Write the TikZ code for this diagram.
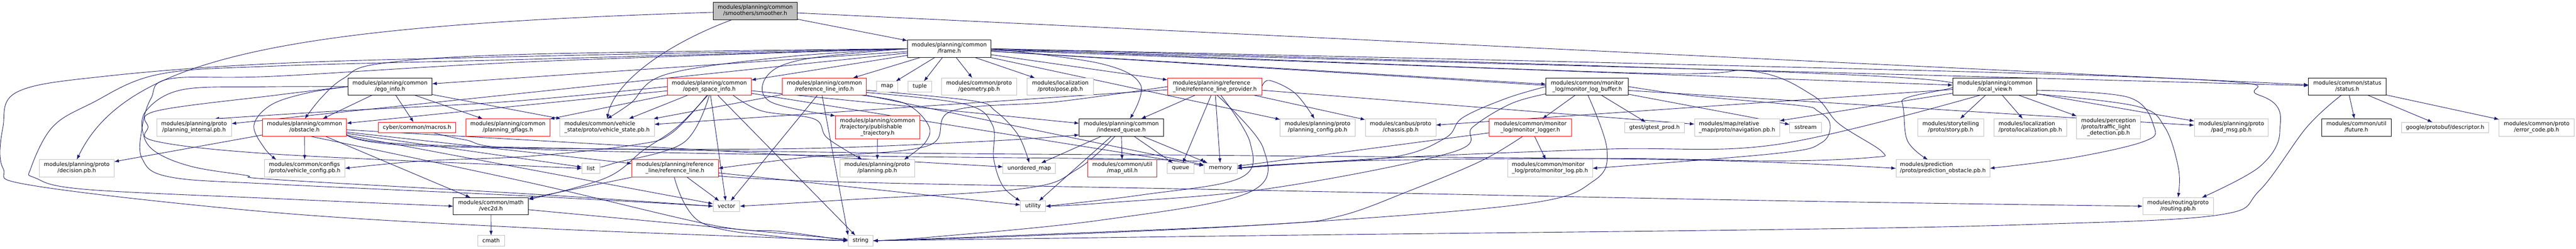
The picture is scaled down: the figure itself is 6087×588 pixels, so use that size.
\documentclass[tikz,border=0pt]{standalone}
\usepackage{fontspec}
\newfontfamily\dvs{DejaVu Sans}
\usetikzlibrary{arrows.meta,backgrounds}
\definecolor{edgec}{HTML}{191970}
\definecolor{lgray}{HTML}{BFBFBF}
\newcommand\nfnt{\dvs\fontsize{13}{14.5}\selectfont}
\newcommand\twol[2]{\begin{tabular}{@{}l@{}}#1\\\multicolumn{1}{@{}c@{}}{#2}\end{tabular}}
\newcommand\threel[3]{\begin{tabular}{@{}l@{}}#1\\#2\\\multicolumn{1}{@{}c@{}}{#3}\end{tabular}}
\newcommand\edg[2]{\draw[dep] (#1) -- (#2);}
\newcommand\edp[1]{\draw[dep] plot[smooth,tension=0.6] coordinates {#1};}
\tikzset{
  nd/.style={rectangle, inner sep=0pt, outer sep=0pt, fill=white, line width=1pt, font=\nfnt, minimum height=41pt},
  lf/.style={nd, draw=lgray},
  rd/.style={nd, draw=red},
  bk/.style={nd, draw=black, line width=1.2pt},
  rt/.style={nd, draw=black, line width=1.2pt, fill=lgray},
  hone/.style={minimum height=25pt},
  hthree/.style={minimum height=55pt},
  dep/.style={draw=edgec, line width=1.1pt, -{Latex[length=11pt,width=8pt]}},
}
\begin{document}
\begin{tikzpicture}[x=1pt,y=-1pt]
\useasboundingbox (0,0) rectangle (6087,588);
% row 0 / 1
\node[rt, minimum width=199pt] (smoother) at (1784.5,26) {\twol{modules/planning/common}{/smoothers/smoother.h}};
\node[bk, minimum width=198pt] (frame) at (2243,115) {\twol{modules/planning/common}{/frame.h}};
% row 2
\node[bk, minimum width=199pt] (ego) at (921.5,204.5) {\twol{modules/planning/common}{/ego\_info.h}};
\node[rd, minimum width=198pt] (osi) at (1676,204.5) {\twol{modules/planning/common}{/open\_space\_info.h}};
\node[rd, minimum width=198pt] (rli) at (1948,204.5) {\twol{modules/planning/common}{/reference\_line\_info.h}};
\node[lf, hone, minimum width=50pt] (map) at (2096,204.5) {map};
\node[lf, hone, minimum width=55pt] (tuple) at (2173.5,204.5) {tuple};
\node[lf, minimum width=177pt] (geom) at (2313.5,204.5) {\twol{modules/common/proto}{/geometry.pb.h}};
\node[lf, minimum width=157pt] (pose) at (2505.5,204.5) {\twol{modules/localization}{/proto/pose.pb.h}};
\node[rd, minimum width=223pt] (rlp) at (2870.5,204.5) {\twol{modules/planning/reference}{\_line/reference\_line\_provider.h}};
\node[bk, minimum width=195pt] (mlb) at (3750.5,204.5) {\twol{modules/common/monitor}{\_log/monitor\_log\_buffer.h}};
\node[bk, minimum width=199pt] (lv) at (4713.5,204.5) {\twol{modules/planning/common}{/local\_view.h}};
\node[bk, minimum width=183pt] (status) at (5546.5,204.5) {\twol{modules/common/status}{/status.h}};
% row 3
\node[lf, minimum width=177pt] (pint) at (458.5,301) {\twol{modules/planning/proto}{/planning\_internal.pb.h}};
\node[rd, minimum width=199pt] (obst) at (719.5,301) {\twol{modules/planning/common}{/obstacle.h}};
\node[rd, hone, minimum width=183pt] (macros) at (985.5,301) {cyber/common/macros.h};
\node[rd, minimum width=198pt] (gflags) at (1200,301) {\twol{modules/planning/common}{/planning\_gflags.h}};
\node[lf, minimum width=223pt] (vstate) at (1434.5,301) {\twol{modules/common/vehicle}{\_state/proto/vehicle\_state.pb.h}};
\node[rd, hthree, minimum width=199pt] (ptraj) at (2073.5,301) {\threel{modules/planning/common}{/trajectory/publishable}{\_trajectory.h}};
\node[bk, minimum width=199pt] (iq) at (2649.5,301) {\twol{modules/planning/common}{/indexed\_queue.h}};
\node[lf, minimum width=177pt] (pcfg) at (3113.5,301) {\twol{modules/planning/proto}{/planning\_config.pb.h}};
\node[lf, minimum width=167pt] (chassis) at (3309.5,301) {\twol{modules/canbus/proto}{/chassis.pb.h}};
\node[rd, minimum width=194pt] (mlogger) at (3616,301) {\twol{modules/common/monitor}{\_log/monitor\_logger.h}};
\node[lf, hone, minimum width=141pt] (gtest) at (3909.5,301) {gtest/gtest\_prod.h};
\node[lf, minimum width=201pt] (nav) at (4104.5,301) {\twol{modules/map/relative}{\_map/proto/navigation.pb.h}};
\node[lf, hone, minimum width=75pt] (sstream) at (4266.5,301) {sstream};
\node[lf, minimum width=157pt] (story) at (4609.5,301) {\twol{modules/storytelling}{/proto/story.pb.h}};
\node[lf, minimum width=171pt] (loc) at (4797.5,301) {\twol{modules/localization}{/proto/localization.pb.h}};
\node[lf, hthree, minimum width=151pt] (tld) at (4982.5,301) {\threel{modules/perception}{/proto/traffic\_light}{\_detection.pb.h}};
\node[lf, minimum width=175pt] (pad) at (5272.5,301) {\twol{modules/planning/proto}{/pad\_msg.pb.h}};
\node[bk, minimum width=164pt] (future) at (5568,301) {\twol{modules/common/util}{/future.h}};
\node[lf, hone, minimum width=205pt] (desc) at (5777.5,301) {google/protobuf/descriptor.h};
\node[lf, minimum width=178pt] (err) at (5994,301) {\twol{modules/common/proto}{/error\_code.pb.h}};
% row 4
\node[lf, minimum width=177pt] (dec) at (181.5,397.5) {\twol{modules/planning/proto}{/decision.pb.h}};
\node[lf, minimum width=190pt] (vcfg) at (720,397.5) {\twol{modules/common/configs}{/proto/vehicle\_config.pb.h}};
\node[lf, hone, minimum width=42pt] (list) at (1396,397.5) {list};
\node[rd, minimum width=204pt] (rl) at (1595,397.5) {\twol{modules/planning/reference}{\_line/reference\_line.h}};
\node[lf, minimum width=176pt] (ppb) at (2073,397.5) {\twol{modules/planning/proto}{/planning.pb.h}};
\node[lf, hone, minimum width=124pt] (umap) at (2432,397.5) {unordered\_map};
\node[rd, minimum width=164pt] (mutil) at (2652,397.5) {\twol{modules/common/util}{/map\_util.h}};
\node[lf, hone, minimum width=63pt] (queue) at (2789.5,397.5) {queue};
\node[lf, hone, minimum width=78pt] (memory) at (2884,397.5) {memory};
\node[lf, minimum width=201pt] (mlpb) at (3662.5,397.5) {\twol{modules/common/monitor}{\_log/proto/monitor\_log.pb.h}};
\node[lf, minimum width=222pt] (pobs) at (4591,397.5) {\twol{modules/prediction}{/proto/prediction\_obstacle.pb.h}};
% row 5 / 6
\node[bk, minimum width=178pt] (vec2d) at (1160,487) {\twol{modules/common/math}{/vec2d.h}};
\node[lf, hone, minimum width=63pt] (vector) at (1716.5,487) {vector};
\node[lf, hone, minimum width=60pt] (utility) at (2441,487) {utility};
\node[lf, minimum width=167pt] (routing) at (5146.5,487) {\twol{modules/routing/proto}{/routing.pb.h}};
\node[lf, hone, minimum width=63pt] (cmath) at (1160.5,568.5) {cmath};
\node[lf, hone, minimum width=59pt] (string) at (2033.5,568.5) {string};

\begin{scope}[on background layer]
\fill[white] (0,0) rectangle (6087,588);
% smoother
\edg{smoother}{frame}
\edg{smoother}{status}
\draw[dep] (smoother) .. controls (1560,110) and (1450,200) .. (vstate.north);
\draw[dep] (smoother) .. controls (700,60) and (300,130) .. (dec.north);
% frame
\foreach \x in {ego,pint,osi,rli,map,tuple,geom,pose,pcfg,rlp,mlb,lv,status,pad} {\edg{frame}{\x}}
\edp{(frame.west) (1250,128) (900,150) (812,185) (760,230) (obst.88)}
\edp{(frame.west) (1850,135) (1573,176) (1490,244) (vstate.north)}
\edp{(frame.west) (1900,140) (1812,180) (1820,240) (ptraj.north west)}
\edp{(frame.east) (2600,150) (2695,200) (iq.45)}
\edp{(frame.west) (1250,133) (650,150) (249,180) (41,217) (7,300) (7,397) (83,439) (650,502) (1250,538) (1850,562) (string.west)}
\edp{(frame.west) (1250,140) (650,156) (373,176) (216,244) (124,300) (73,397) (83,420) (200,447) (650,469) (vec2d.west)}
\edp{(frame.west) (1250,146) (650,180) (402,186) (357,232) (336,300) (336,375) (402,418) (650,435) (1250,463) (vector.west)}
\edp{(frame.east) (5000,180) (5339,225) (5387,311) (5339,394) (routing.20)}
\edp{(frame.east) (4457,181) (4494,240) (4507,332) (pobs.150)}
\edp{(frame.east) (3849,172) (4139,168) (4283,225) (4345,292) (4447,358) (4420,372) (4200,380) (3800,374) (3200,380) (memory.east)}
% ego
\foreach \x in {obst,macros,gflags,vstate} {\edg{ego}{\x}}
\edp{(ego.west) (724,220) (640,248) (600,296) (625,350) (vcfg.163)}
\edp{(ego.west) (650,225) (370,262) (350,300) (370,334) (650,364) (1250,392) (list.west)}
\edp{(ego.west) (620,205) (430,212) (345,262) (340,322) (373,362) (456,394) (581,414) (650,424) (1250,458) (vector.west)}
% obstacle
\foreach \x in {vcfg,dec,vec2d,list,rl,vector,umap} {\edg{obst}{\x}}
\edp{(obst.-10) (1000,345) (1800,352) (2300,335) (iq.-170)}
\edp{(obst.-8) (1000,342) (2000,360) (3000,368) (4000,378) (pobs.west)}
\edp{(obst.-60) (1250,431) (1685,532) (1850,547) (string.west)}
% open space info
\foreach \x in {obst,gflags,vstate,vector,iq,memory,string} {\edg{osi}{\x}}
\edp{(osi.west) (1200,240) (800,262) (pint.23)}
\edp{(osi.south) (1615,337) (1449,386) (list.east)}
\edp{(osi.-100) (1600,300) (1520,355) (1432,420) (vec2d.10)}
\edp{(osi.-105) (1586,315) (1500,342) (1250,369) (1000,380) (vcfg.east)}
\edp{(osi.-20) (1800,262) (1924,281) (1955,326) (ppb.150)}
% reference line info
\foreach \x in {vstate,vector,memory} {\edg{rli}{\x}}
\draw[dep] (rli.-105) -- (string.north west);
\edp{(rli.-13) (2140,245) (2194,296) (2186,337) (ppb.18)}
\edp{(rli.-5) (2298,238) (2352,262) (2406,319) (umap.north)}
\edp{(rli.-8) (2280,246) (2345,295) (2348,375) (2370,440) (utility.north west)}
% publishable trajectory, reference line
\edg{ptraj}{ppb}
\foreach \x in {vec2d,vector,utility} {\edg{rl}{\x}}
\edp{(rl.-95) (1656,525) (1850,560) (string.west)}
\edp{(rl.-10) (2000,430) (3000,450) (4200,474) (routing.west)}
% indexed queue
\foreach \x in {umap,utility,mutil,queue,memory} {\edg{iq}{\x}}
\edp{(iq.-125) (2545,400) (2420,445) (2000,472) (vector.east)}
% reference line provider
\foreach \x in {vstate,iq,queue,memory,nav,chassis} {\edg{rlp}{\x}}
\edp{(rlp.west) (2500,240) (2250,262) (2190,345) (1900,372) (rl.east)}
\edp{(rlp.-55) (2954,337) (2931,420) (2700,460) (utility.east)}
\edp{(rlp.-75) (2985,350) (2950,455) (2600,520) (2200,560) (string.east)}
\edp{(rlp.east) (3000,190) (3060,220) (pcfg.110)}
% macros
\edp{(macros.-18) (1098,330) (1250,352) (2000,368) (2700,376) (memory.north west)}
% monitor log buffer
\foreach \x in {mlogger,gtest,sstream} {\edg{mlb}{\x}}
\edp{(mlb.east) (4000,226) (4250,249) (4295,262) (4324,292) (4304,337) (4200,362) (mlpb.east)}
\edp{(mlb.-85) (3797,352) (3766,427) (3600,482) (3000,530) (2400,558) (string.east)}
\edp{(mlb.west) (3560,232) (3456,278) (3415,326) (3290,371) (3000,390) (memory.east)}
\edp{(mlb.-170) (3570,245) (3480,300) (3430,360) (3000,445) (2600,480) (utility.east)}
% monitor logger
\edg{mlogger}{mlpb}
\edg{mlogger}{memory}
\edp{(mlogger.-130) (3500,380) (3332,450) (3166,510) (3000,530) (2400,556) (string.east)}
% local view
\foreach \x in {chassis,nav,story,loc,tld,pad} {\edg{lv}{\x}}
\edp{(lv.-10) (5049,251) (5115,300) (5148,400) (routing.north)}
\edp{(lv.-5) (5030,230) (5090,300) (5066,334) (4900,372) (pobs.east)}
\edp{(lv.-150) (4200,341) (3800,352) (3300,372) (memory.east)}
% status
\foreach \x in {future,desc,err} {\edg{status}{\x}}
\edp{(status.-125) (5451,300) (5339,450) (5240,508) (4800,530) (4200,542) (3000,556) (string.east)}
% vec2d
\edg{vec2d}{cmath}
\edg{vec2d}{string}
\end{scope}
\end{tikzpicture}
\end{document}
